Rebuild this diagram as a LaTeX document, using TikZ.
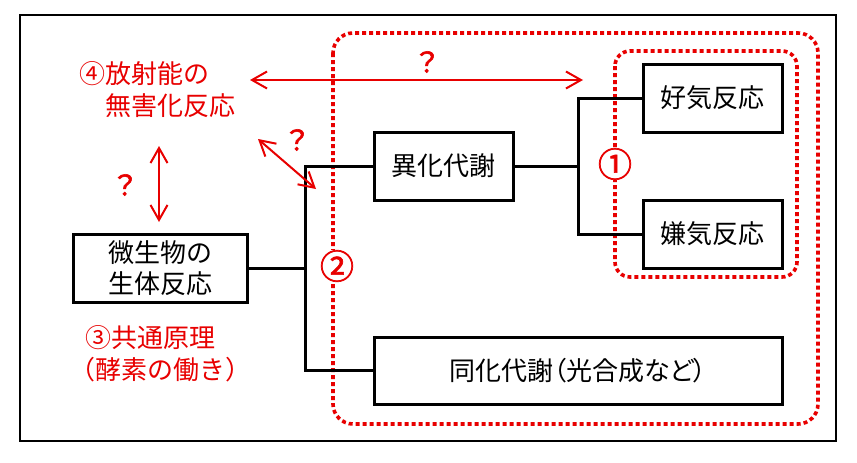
\documentclass[tikz,border=0pt]{standalone}
\usepackage{fontspec}
\setmainfont{Noto Sans CJK JP}
\newfontfamily\jpb[FakeBold=2]{Noto Sans CJK JP}
\newfontfamily\jpp[RawFeature=+palt]{Noto Sans CJK JP}
\usetikzlibrary{arrows.meta}
\definecolor{myred}{RGB}{232,0,0}
\begin{document}
\begin{tikzpicture}[x=1pt,y=-1pt,
  box/.style={draw, line width=3pt, minimum height=68pt, inner sep=0pt, align=center, font=\fontsize{26}{31}\selectfont},
  conn/.style={line width=3pt},
  reddot/.style={draw=myred, line width=3.6pt, dash pattern=on 4pt off 3pt},
  rarrow/.style={draw=myred, line width=2pt, {Straight Barb[length=15pt,width=17pt]}-{Straight Barb[length=15pt,width=17pt]}},
  rtext/.style={text=myred, inner sep=0pt, font=\fontsize{26}{30}\selectfont},
  qmark/.style={text=myred, inner sep=0pt, font=\jpb\fontsize{28}{30}\selectfont},
  circnum/.style={text=myred, fill=white, inner sep=0.5pt, font=\jpb\fontsize{34}{34}\selectfont}]
\useasboundingbox (0,0) rectangle (857,463);
\fill[white] (0,0) rectangle (857,463);
% outer frame
\draw[line width=1.3pt] (20,15) rectangle (836,441);
% red dotted regions
\draw[reddot, rounded corners=20pt] (333,33) rectangle (818,424);
\draw[reddot, rounded corners=15pt] (615,51) rectangle (797,277);
% boxes
\node[box, minimum width=174pt] (b1) at (160,268) {微生物の\\生体反応};
\node[box, minimum width=139pt] (b2) at (443.5,166) {異化代謝};
\node[box, minimum width=139pt] (b3) at (712.5,98) {好気反応};
\node[box, minimum width=139pt] (b4) at (712.5,234) {嫌気反応};
\node[box, minimum width=408pt, minimum height=67pt] (b5) at (578,370.5) {\jpp 同化代謝（光合成など）};
% connectors
\coordinate (j1) at (305,268);
\coordinate (j2) at (578,166);
\draw[conn] (b1.east) -- (j1);
\draw[conn] (b2.west) -- (b2.west -| j1) -- (b5.west -| j1) -- (b5.west);
\draw[conn] (b2.east) -- (j2);
\draw[conn] (b3.west) -- (b3.west -| j2) -- (b4.west -| j2) -- (b4.west);
% circled numbers
\node[circnum] (n1) at (615,164) {①};
\node[circnum] (n2) at (337,266) {②};
% red texts
\node[rtext] (t4a) at (144,74) {④放射能の};
\node[rtext] (t4b) at (170.5,106) {無害化反応};
\node[rtext] (t3a) at (150,338) {③共通原理};
\node[rtext] (t3b) at (160,370) {（酵素の働き）};
% arrows
\coordinate (h1) at (250,80);
\coordinate (h2) at (583,80);
\coordinate (d1) at (258,139);
\coordinate (d2) at (316,189);
\coordinate (v1) at (159,146);
\coordinate (v2) at (159,222);
\draw[rarrow] (h1) -- (h2);
\draw[rarrow] (d1) -- (d2);
\draw[rarrow] (v1) -- (v2);
\node[qmark] (q1) at (427,62) {？};
\node[qmark] (q2) at (297,140) {？};
\node[qmark] (q3) at (125,185) {？};
\end{tikzpicture}
\end{document}
